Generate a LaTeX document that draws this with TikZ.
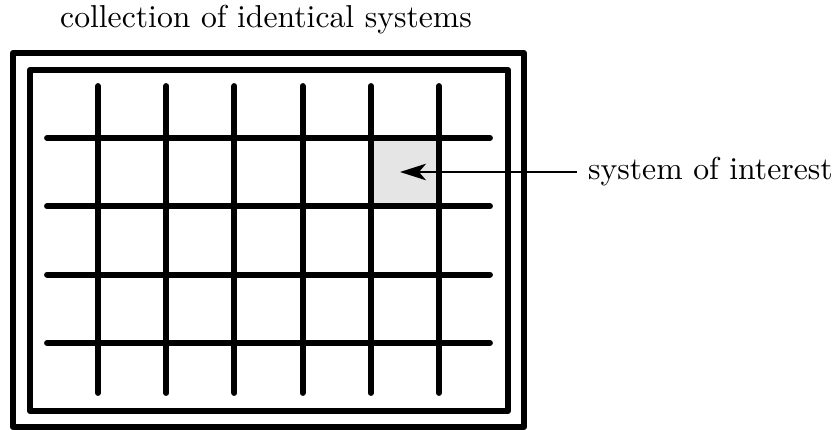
\documentclass[tikz,border=0pt]{standalone}
\usetikzlibrary{arrows.meta}
\begin{document}
\begin{tikzpicture}[x=0.3155pt,y=-0.3155pt,
  frame/.style={line width=1.9pt, line join=round},
  gridline/.style={line width=1.85pt, line cap=round},
  pointer/.style={line width=0.8pt, -{Stealth[length=8.2pt,width=5.2pt,inset=2.2pt]}}]
\useasboundingbox (0,0) rectangle (839,430);
% highlighted cell
\fill[black!10] (371,138) rectangle (439,206);
% double frame
\draw[frame] (13,53) rectangle (524,427);
\draw[frame] (30,70) rectangle (508,411);
% grid
\foreach \x in {98,166.2,234.4,302.6,370.8,439} \draw[gridline] (\x,86) -- (\x,393);
\foreach \y in {138,206.3,274.6,343} \draw[gridline] (47,\y) -- (490,\y);
% labels
\node[anchor=base] (title) at (266,28) {collection of identical systems};
\coordinate (target) at (400,172);
\node[anchor=west] (label) at (577,172) {system of interest};
\draw[pointer] (label.west) -- (target);
\end{tikzpicture}
\end{document}
